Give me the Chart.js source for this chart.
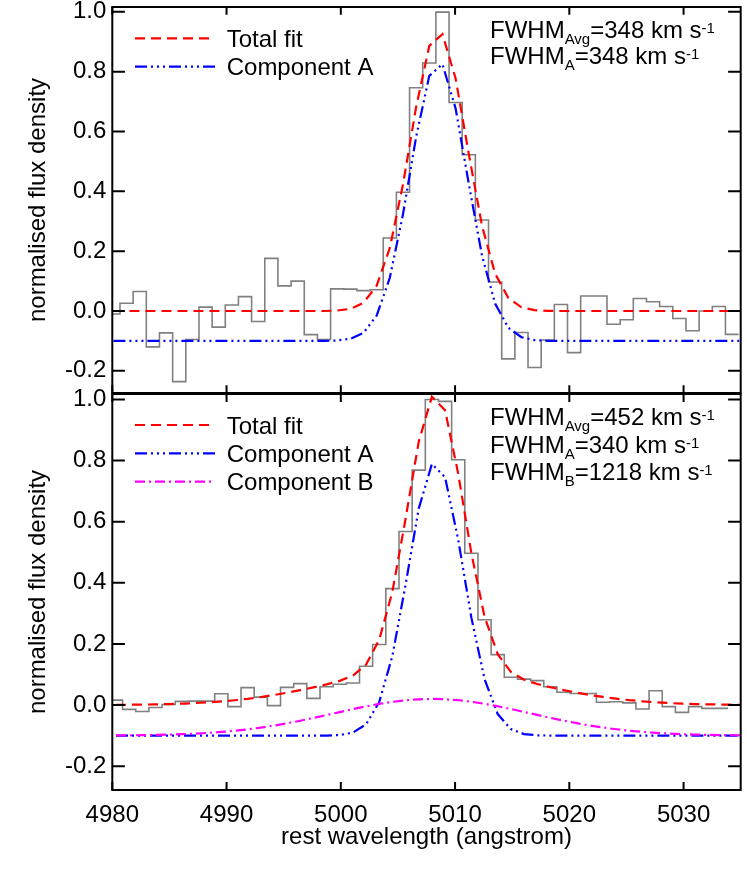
<!DOCTYPE html>
<html>
<head>
<meta charset="utf-8">
<script src="https://cdn.jsdelivr.net/npm/chart.js@4/dist/chart.umd.min.js"></script>
<style>
html, body { margin: 0; padding: 0; background: #fff; }
#wrap { position: relative; width: 747px; height: 879px; overflow: hidden; background: #fff; }
canvas { position: absolute; left: 0; }
#cTop { top: 0; }
#cBot { top: 380px; }
</style>
</head>
<body>
<div id="wrap">
  <canvas id="cTop" width="747" height="400"></canvas>
  <canvas id="cBot" width="747" height="499"></canvas>
</div>
<script>
// ---------------- data ----------------
const xTickValues = [4980, 4990, 5000, 5010, 5020, 5030];
const yTickValues = [-0.2, 0.0, 0.2, 0.4, 0.6, 0.8, 1.0];

// Top panel: binned spectrum (bin centres, angstrom) and normalised flux
const topBinCentre = [4980.097, 4981.249, 4982.401, 4983.553, 4984.705, 4985.857, 4987.009, 4988.161,
  4989.313, 4990.465, 4991.617, 4992.769, 4993.921, 4995.073, 4996.225, 4997.377, 4998.529, 4999.681,
  5000.833, 5001.985, 5003.137, 5004.289, 5005.441, 5006.593, 5007.745, 5008.897, 5010.049, 5011.201,
  5012.353, 5013.505, 5014.657, 5015.809, 5016.961, 5018.113, 5019.265, 5020.417, 5021.569, 5022.721,
  5023.873, 5025.025, 5026.177, 5027.329, 5028.481, 5029.633, 5030.785, 5031.937, 5033.089, 5034.241];
const topFlux = [-0.010, 0.026, 0.065, -0.120, -0.073, -0.236, -0.095, 0.013,
  -0.054, 0.020, 0.048, -0.035, 0.176, 0.084, 0.100, -0.079, -0.095, 0.074,
  0.073, 0.068, 0.071, 0.244, 0.397, 0.746, 0.829, 0.999, 0.697, 0.522,
  0.304, 0.097, -0.160, -0.072, -0.189, -0.097, 0.022, -0.139, 0.050, 0.050,
  -0.044, -0.029, 0.042, 0.031, 0.015, -0.025, -0.066, 0.000, 0.015, -0.078];
// Top panel: model curves (component A drawn shifted down by 0.1)
const topModelWave = [4980.097, 4981.249, 4982.401, 4983.553, 4984.705, 4985.857, 4987.009, 4988.161,
  4989.313, 4990.465, 4991.617, 4992.769, 4993.921, 4995.073, 4996.225, 4997.377, 4998.529, 4999.681,
  5000.833, 5001.985, 5003.137, 5004.289, 5005.441, 5006.593, 5007.745, 5008.897, 5010.049, 5011.201,
  5012.353, 5013.505, 5014.657, 5015.809, 5016.961, 5018.113, 5019.265, 5020.417, 5021.569, 5022.721,
  5023.873, 5025.025, 5026.177, 5027.329, 5028.481, 5029.633, 5030.785, 5031.937, 5033.089, 5034.241, 5035.393];
const topTotalFit = [0, 0, 0, 0, 0, 0, 0, 0, 0, 0, 0, 0, 0, 0, 0, 0, 0,
  0.0015, 0.0071, 0.0273, 0.0845, 0.211, 0.423, 0.682, 0.886, 0.925, 0.777, 0.525, 0.286, 0.125, 0.044, 0.0124, 0.0028, 0.0005,
  0, 0, 0, 0, 0, 0, 0, 0, 0, 0, 0, 0, 0, 0, 0];
const topCompA = [-0.1, -0.1, -0.1, -0.1, -0.1, -0.1, -0.1, -0.1, -0.1, -0.1, -0.1, -0.1, -0.1, -0.1, -0.1, -0.1, -0.1,
  -0.0985, -0.0929, -0.0727, -0.0155, 0.111, 0.323, 0.582, 0.786, 0.825, 0.677, 0.425, 0.186, 0.025, -0.056, -0.0876, -0.0972, -0.0995,
  -0.1, -0.1, -0.1, -0.1, -0.1, -0.1, -0.1, -0.1, -0.1, -0.1, -0.1, -0.1, -0.1, -0.1, -0.1];
const topFwhmNames = ['Avg', 'A'];
const topFwhmValues = [348, 348];

// Bottom panel: binned spectrum
const bottomBinCentre = [4980.324, 4981.476, 4982.628, 4983.780, 4984.932, 4986.084, 4987.236, 4988.388,
  4989.540, 4990.692, 4991.844, 4992.996, 4994.148, 4995.300, 4996.452, 4997.604, 4998.756, 4999.908,
  5001.060, 5002.212, 5003.364, 5004.516, 5005.668, 5006.820, 5007.972, 5009.124, 5010.276, 5011.428,
  5012.580, 5013.732, 5014.884, 5016.036, 5017.188, 5018.340, 5019.492, 5020.644, 5021.796, 5022.948,
  5024.100, 5025.252, 5026.404, 5027.556, 5028.708, 5029.860, 5031.012, 5032.164, 5033.316];
const bottomFlux = [0.016, -0.014, -0.021, -0.008, 0.002, 0.012, 0.013, 0.013,
  0.037, -0.005, 0.057, 0.026, -0.002, 0.058, 0.070, 0.022, 0.060, 0.068,
  0.072, 0.127, 0.198, 0.381, 0.568, 0.769, 1.000, 0.994, 0.803, 0.497,
  0.279, 0.165, 0.091, 0.085, 0.080, 0.060, 0.042, 0.038, 0.038, 0.009,
  0.011, 0.007, -0.013, 0.047, -0.005, -0.024, -0.005, -0.011, -0.011];
// Bottom panel: model curves (components drawn shifted down by 0.1)
const bottomModelWave = [4980.324, 4981.476, 4982.628, 4983.780, 4984.932, 4986.084, 4987.236, 4988.388,
  4989.540, 4990.692, 4991.844, 4992.996, 4994.148, 4995.300, 4996.452, 4997.604, 4998.756, 4999.908,
  5001.060, 5002.212, 5003.364, 5004.516, 5005.668, 5006.820, 5007.972, 5009.124, 5010.276, 5011.428,
  5012.580, 5013.732, 5014.884, 5016.036, 5017.188, 5018.340, 5019.492, 5020.644, 5021.796, 5022.948,
  5024.100, 5025.252, 5026.404, 5027.556, 5028.708, 5029.860, 5031.012, 5032.164, 5033.316, 5034.468, 5035.620];
const bottomTotalFit = [0.0007, 0.0010, 0.0015, 0.0023, 0.0033, 0.0047, 0.0065, 0.0089,
  0.0120, 0.0158, 0.0205, 0.0262, 0.0328, 0.0404, 0.0487, 0.0578, 0.0677, 0.0792,
  0.0965, 0.1325, 0.2138, 0.3715, 0.6097, 0.8619, 1.009, 0.965, 0.757, 0.4968,
  0.2891, 0.1666, 0.1085, 0.0826, 0.0688, 0.0584, 0.0491, 0.0407, 0.0331, 0.0265,
  0.0208, 0.0160, 0.0122, 0.0090, 0.0066, 0.0047, 0.0033, 0.0023, 0.0016, 0.0011, 0.0007];
const bottomCompA = [-0.1, -0.1, -0.1, -0.1, -0.1, -0.1, -0.1, -0.1,
  -0.1, -0.1, -0.1, -0.1, -0.1, -0.1, -0.1, -0.1, -0.1, -0.0979,
  -0.0902, -0.0632, 0.0100, 0.1610, 0.3940, 0.6430, 0.7890, 0.7460, 0.5410, 0.2860,
  0.0850, -0.0295, -0.0786, -0.0949, -0.0990, -0.1, -0.1, -0.1, -0.1, -0.1,
  -0.1, -0.1, -0.1, -0.1, -0.1, -0.1, -0.1, -0.1, -0.1, -0.1, -0.1];
const bottomCompB = [-0.0993, -0.0990, -0.0985, -0.0977, -0.0967, -0.0953, -0.0935, -0.0911,
  -0.0880, -0.0842, -0.0795, -0.0738, -0.0672, -0.0596, -0.0513, -0.0422, -0.0327, -0.0229,
  -0.0133, -0.0043, 0.0038, 0.0105, 0.0157, 0.0189, 0.0200, 0.0190, 0.0159, 0.0108,
  0.0041, -0.0039, -0.0129, -0.0225, -0.0322, -0.0418, -0.0509, -0.0593, -0.0669, -0.0735,
  -0.0792, -0.0840, -0.0878, -0.0910, -0.0934, -0.0953, -0.0967, -0.0977, -0.0984, -0.0989, -0.0993];
const bottomFwhmNames = ['Avg', 'A', 'B'];
const bottomFwhmValues = [452, 340, 1218];

// ---------------- styling / helpers ----------------
const FONT = '"Liberation Sans", Arial, Helvetica, sans-serif';
Chart.defaults.font.family = FONT;
Chart.defaults.font.size = 24;
Chart.defaults.color = '#000';

// IDL psym=10 style histogram: steps halfway between centres, half bins at both ends
function histPoints(w, f) {
  const pts = w.map((x, i) => ({ x, y: f[i] }));
  const n = w.length;
  pts.unshift({ x: w[0] - (w[1] - w[0]) / 2, y: f[0] });
  pts.push({ x: w[n - 1] + (w[n - 1] - w[n - 2]) / 2, y: f[n - 1] });
  return pts;
}
const pairs = (w, f) => w.map((x, i) => ({ x, y: f[i] }));

const STYLE = {
  hist: { borderColor: '#808080', borderWidth: 1.6 },
  total: { borderColor: '#ff0000', borderWidth: 2.2, borderDash: [10, 6] },
  compA: { borderColor: '#0000ff', borderWidth: 2.2, borderDash: [12, 4, 2, 4, 2, 4, 2, 4] },
  compB: { borderColor: '#ff00ff', borderWidth: 2.2, borderDash: [10, 4, 2, 4] }
};

const idlDecor = {
  id: 'idlDecor',
  afterDatasetsDraw(chart, args, o) {
    const { ctx, chartArea: a } = chart;
    const xs = chart.scales.x, ys = chart.scales.y;
    ctx.save();
    ctx.setLineDash([]);
    ctx.strokeStyle = '#000';
    ctx.lineWidth = 2;
    ctx.beginPath();
    xs.ticks.forEach(t => {
      const p = xs.getPixelForValue(t.value);
      ctx.moveTo(p, a.bottom); ctx.lineTo(p, a.bottom - o.xTick);
      ctx.moveTo(p, a.top); ctx.lineTo(p, a.top + o.xTick);
    });
    ys.ticks.forEach(t => {
      const p = ys.getPixelForValue(t.value);
      ctx.moveTo(a.left, p); ctx.lineTo(a.left + o.yTick, p);
      ctx.moveTo(a.right, p); ctx.lineTo(a.right - o.yTick, p);
    });
    ctx.stroke();
    ctx.strokeRect(a.left, a.top, a.right - a.left, a.bottom - a.top);

    // legend built from the datasets
    const items = chart.data.datasets.filter(d => d.inLegend);
    ctx.textAlign = 'left';
    ctx.textBaseline = 'alphabetic';
    ctx.fillStyle = '#000';
    items.forEach((d, i) => {
      const y = a.top + o.legendTop + i * o.legendStep;
      ctx.save();
      ctx.strokeStyle = d.borderColor;
      ctx.lineWidth = d.borderWidth;
      ctx.setLineDash(d.borderDash || []);
      ctx.beginPath();
      ctx.moveTo(a.left + o.legendX0, y);
      ctx.lineTo(a.left + o.legendX1, y);
      ctx.stroke();
      ctx.restore();
      ctx.font = '24px ' + FONT;
      ctx.fillText(d.label, a.left + o.legendTextX, y + 8.6);
    });

    // FWHM annotations
    o.names.forEach((nm, i) => {
      let x = a.left + o.noteX;
      const y = a.top + o.noteTop + i * o.noteStep;
      const parts = [['FWHM', 24, 0], [nm, 15, 6], ['=' + o.values[i] + ' km s', 24, 0], ['-1', 15, -5]];
      parts.forEach(([t, s, dy]) => {
        ctx.font = s + 'px ' + FONT;
        ctx.fillText(t, x, y + dy);
        x += ctx.measureText(t).width;
      });
    });
    ctx.restore();
  }
};

const fmtY = v => (Math.abs(v) < 1e-9 ? 0 : v).toFixed(1);

function makeChart(canvasId, cfg) {
  const datasets = [
    Object.assign({ label: 'Total fit', data: pairs(cfg.modelWave, cfg.total), inLegend: true, order: 3 }, STYLE.total),
    Object.assign({ label: 'Component A', data: pairs(cfg.modelWave, cfg.compA), inLegend: true, order: 2 }, STYLE.compA)
  ];
  if (cfg.compB) {
    datasets.push(Object.assign({ label: 'Component B', data: pairs(cfg.modelWave, cfg.compB), inLegend: true, order: 1 }, STYLE.compB));
  }
  datasets.push(Object.assign({ label: 'spectrum', data: histPoints(cfg.binCentre, cfg.flux), stepped: 'middle', inLegend: false, order: 10 }, STYLE.hist));
  datasets.forEach(d => { d.pointRadius = 0; d.fill = false; d.tension = 0; });

  return new Chart(document.getElementById(canvasId), {
    type: 'line',
    data: { datasets },
    options: {
      responsive: false,
      animation: false,
      devicePixelRatio: 1,
      events: [],
      layout: { padding: cfg.padding },
      plugins: {
        legend: { display: false },
        tooltip: { enabled: false },
        idlDecor: cfg.decor
      },
      scales: {
        x: {
          type: 'linear',
          min: 4980, max: 5035,
          afterBuildTicks: s => { s.ticks = xTickValues.map(v => ({ value: v })); },
          ticks: { display: cfg.xLabels, padding: 11, autoSkip: false, maxRotation: 0, callback: v => String(v), font: { size: 24 } },
          grid: { display: false, drawTicks: false },
          border: { display: false },
          title: { display: cfg.xLabels, text: 'rest wavelength (angstrom)', font: { size: 24 }, padding: { top: 0, bottom: 0 } },
          afterFit: s => { s.height = cfg.xHeight; s.paddingLeft = 0; s.paddingRight = 0; }
        },
        y: {
          type: 'linear',
          min: cfg.yMin, max: cfg.yMax,
          afterBuildTicks: s => { s.ticks = yTickValues.map(v => ({ value: v })); },
          ticks: { padding: 6, autoSkip: false, callback: fmtY, font: { size: 24 } },
          grid: { display: false, drawTicks: false },
          border: { display: false },
          title: { display: true, text: 'normalised flux density', font: { size: 24 }, padding: { top: 23.6, bottom: 0 } },
          afterFit: s => { s.width = 112.3; s.paddingTop = 0; s.paddingBottom = 0; }
        }
      }
    },
    plugins: [idlDecor]
  });
}

makeChart('cTop', {
  binCentre: topBinCentre, flux: topFlux,
  modelWave: topModelWave, total: topTotalFit, compA: topCompA, compB: null,
  yMin: -0.274, yMax: 1.016,
  xLabels: false, xHeight: 7,
  padding: { top: 7, right: 6.3, bottom: 0, left: 0 },
  decor: {
    xTick: 7.7, yTick: 12.6,
    legendTop: 31.3, legendStep: 28.4, legendX0: 22.7, legendX1: 102.7, legendTextX: 114.4,
    names: topFwhmNames, values: topFwhmValues, noteX: 377.7, noteTop: 30.5, noteStep: 26.8
  }
});

makeChart('cBot', {
  binCentre: bottomBinCentre, flux: bottomFlux,
  modelWave: bottomModelWave, total: bottomTotalFit, compA: bottomCompA, compB: bottomCompB,
  yMin: -0.278, yMax: 1.018,
  xLabels: true, xHeight: 62,
  padding: { top: 14, right: 6.3, bottom: 27, left: 0 },
  decor: {
    xTick: 7.9, yTick: 12.6,
    legendTop: 31, legendStep: 28.35, legendX0: 22.7, legendX1: 102.7, legendTextX: 114.4,
    names: bottomFwhmNames, values: bottomFwhmValues, noteX: 377.7, noteTop: 31, noteStep: 27.65
  }
});
</script>
</body>
</html>
